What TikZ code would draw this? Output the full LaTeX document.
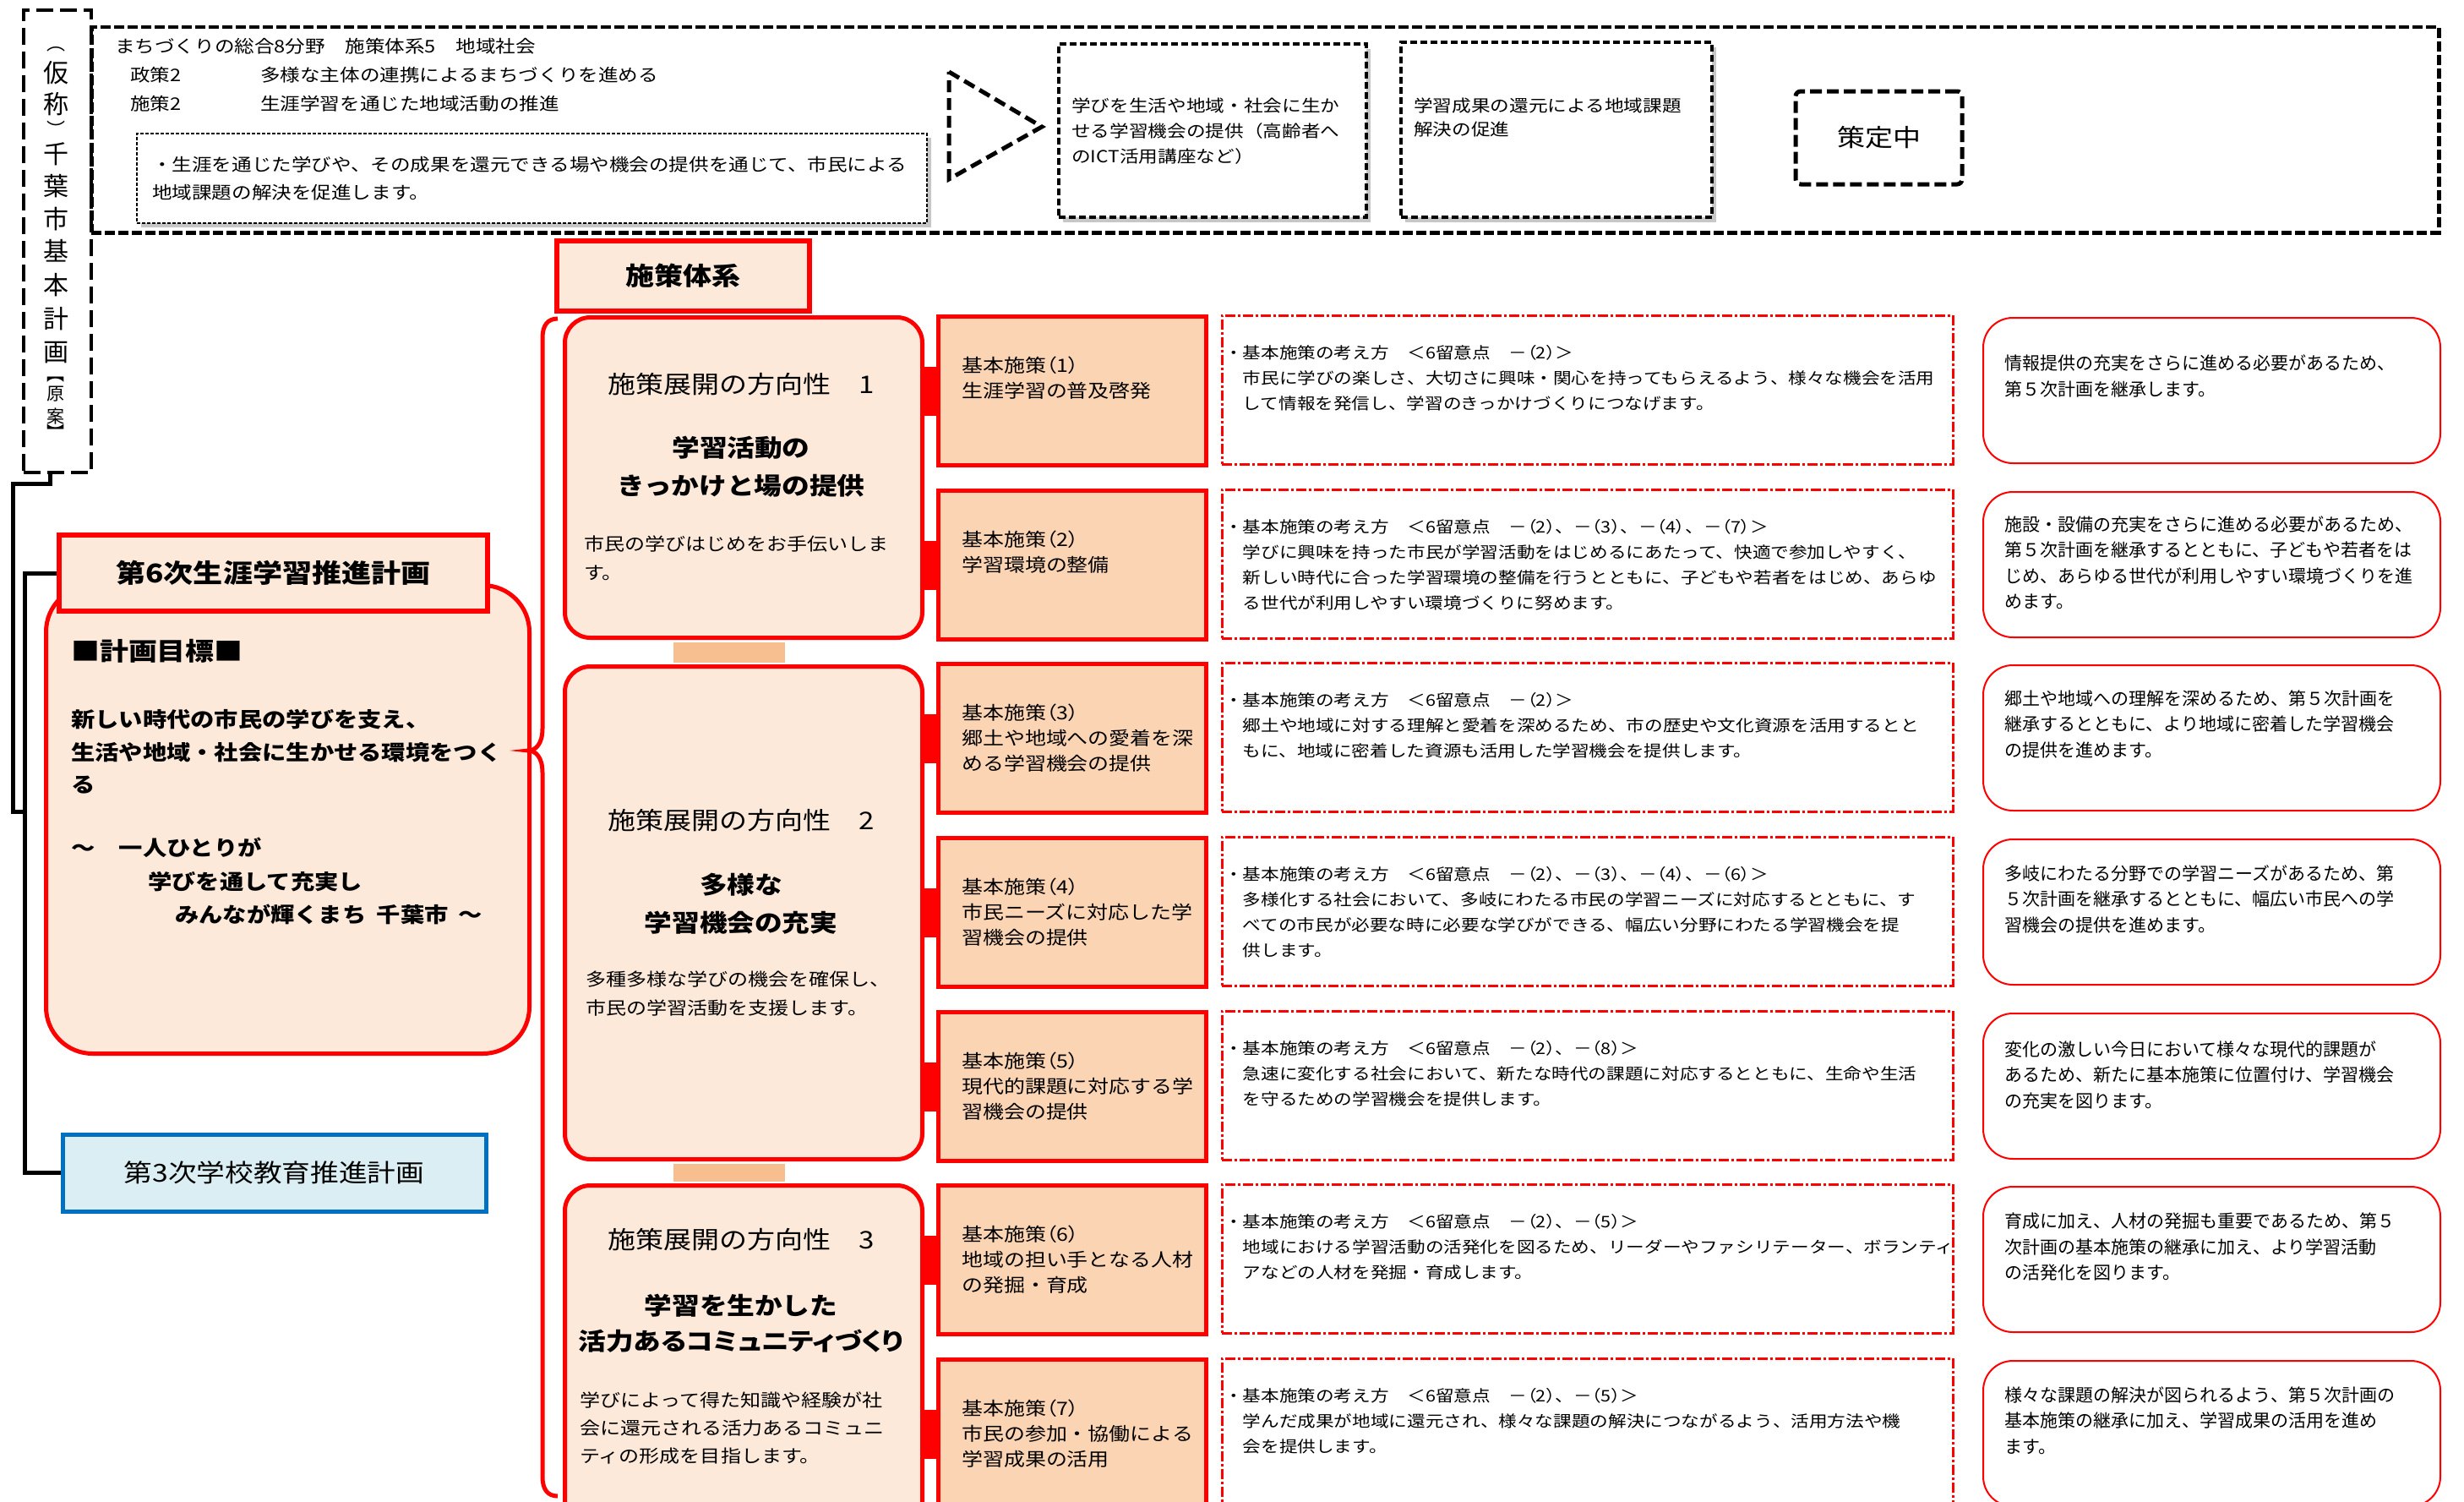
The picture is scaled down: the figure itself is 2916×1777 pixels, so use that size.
\documentclass[tikz,border=0pt]{standalone}
\usepackage{fontspec}
\setmainfont{Noto Sans CJK JP}[FakeStretch=1.15]
\newfontfamily\plainjp{Noto Sans CJK JP}
\definecolor{peachL}{HTML}{FDE9D9}
\definecolor{peachD}{HTML}{FBD4B4}
\definecolor{barc}{HTML}{F7BF8F}
\definecolor{blueF}{HTML}{DAEEF3}
\definecolor{blueD}{HTML}{0070C0}
\newcommand\myfs[2]{\fontsize{#1pt}{#2pt}\selectfont}
\newcommand\pp[1]{{\addfontfeature{RawFeature=+palt}（#1）}}
\begin{document}
\begin{tikzpicture}[x=1pt,y=-1pt,
 conn/.style={line width=5pt,draw=black},
 redhead/.style={draw=red,line width=6pt,fill=peachL,inner sep=0pt},
 dirbox/.style={draw=red,line width=5pt,fill=peachL,rounded corners=30pt,minimum width=423pt,anchor=north west,inner sep=0pt},
 kbox/.style={draw=red,line width=5pt,fill=peachD,minimum width=317pt,minimum height=176pt,anchor=north west,inner sep=0pt},
 cbox/.style={draw=red,line width=2.5pt,dash pattern=on 12pt off 3pt on 3pt off 3pt,fill=white,minimum width=865pt,minimum height=176pt,anchor=north west,inner sep=0pt},
 rbox/.style={draw=red,line width=2pt,rounded corners=35pt,fill=white,minimum width=541pt,minimum height=172pt,anchor=north west,inner sep=0pt},
 txt/.style={inner sep=0pt,align=left,anchor=west},
 ktxt/.style={txt,font=\myfs{21.7}{30}},
 ctxt/.style={txt,font=\myfs{18.8}{30}},
 rtxt/.style={txt,font=\plainjp\myfs{21}{30.5}},
 ttl/.style={inner sep=0pt,font=\myfs{28.7}{34}},
 subt/.style={inner sep=0pt,align=center,font=\bfseries\myfs{28.4}{45}},
 dtxt/.style={txt,font=\myfs{20.9}{34}},
 topfont/.style={txt,font=\myfs{20.5}{33}},
 dashbox/.style={draw=black,fill=white,line width=4pt,dash pattern=on 8pt off 4pt,anchor=north west,inner sep=0pt},
 shadowc/.style={fill=black!22},
]
\useasboundingbox (0,0) rectangle (2916,1777);
\clip (0,0) rectangle (2916,1777);
\fill[white] (0,0) rectangle (2916,1777);

% ---- top frame and left vertical frame
\node[draw=black,line width=4.5pt,dash pattern=on 12pt off 4pt,minimum width=2778pt,minimum height=243pt,anchor=north west,inner sep=0pt] (topbox) at (106,30) {};
\node[draw=black,line width=4pt,dash pattern=on 20pt off 8pt,minimum width=80pt,minimum height=547pt,anchor=north west,inner sep=0pt] (kihon) at (26,10) {};
\foreach \c/\yy [count=\i] in {仮/86,称/123,千/182,葉/220,市/259,基/297,本/337,計/377,画/417}
  \node[font=\plainjp\myfs{30}{30},inner sep=0pt] (v\i) at (66,\yy) {\c};
\node[font=\plainjp\myfs{22}{22},inner sep=0pt] (pl) at (66,58) {︵};
\node[font=\plainjp\myfs{22}{22},inner sep=0pt] (pr) at (66,152) {︶};
\foreach \c/\yy [count=\i] in {︻/449,原/466,案/493,︼/511}
  \node[font=\plainjp\myfs{21}{21},inner sep=0pt] (w\i) at (66,\yy) {\c};

% ---- top texts
\node[topfont] (t1) at (136,55) {まちづくりの総合8分野　施策体系5　地域社会};
\node[topfont] (t2) at (154,89) {政策2};
\node[topfont] (t3) at (308,89) {多様な主体の連携によるまちづくりを進める};
\node[topfont] (t4) at (154,123) {施策2};
\node[topfont] (t5) at (308,123) {生涯学習を通じた地域活動の推進};

\fill[shadowc] (167,163) rectangle (1102,269);
\node[draw=black,fill=white,line width=1.5pt,dash pattern=on 4pt off 2pt,minimum width=935pt,minimum height=106pt,anchor=north west,inner sep=0pt] (seisaku) at (161,157) {};
\node[topfont] (seisakut) at (180,211.5) {・生涯を通じた学びや、その成果を還元できる場や機会の提供を通じて、市民による\\地域課題の解決を促進します。};

\draw[line width=5pt,dash pattern=on 14pt off 7pt] (1123,85) -- (1233,150) -- (1123,212) -- cycle;

\fill[shadowc] (1258,58) rectangle (1622,263);
\node[dashbox,minimum width=364pt,minimum height=205pt] (ict) at (1251,50) {};
\node[txt,font=\myfs{19.7}{30}] (ictt) at (1268,155) {学びを生活や地域・社会に生か\\せる学習機会の提供（高齢者へ\\のICT活用講座など）};
\fill[shadowc] (1663,56) rectangle (2031,263);
\node[dashbox,minimum width=368pt,minimum height=207pt] (kadai) at (1656,48) {};
\node[txt,font=\myfs{19.7}{28}] (kadait) at (1673,139) {学習成果の還元による地域課題\\解決の促進};
\node[draw=black,line width=5pt,dash pattern=on 14pt off 6pt,rounded corners=6pt,minimum width=197pt,minimum height=110pt,inner sep=0pt,font=\myfs{28.7}{30}] (sakutei) at (2223.5,163) {策定中};

% ---- left plans
\node[draw=red,line width=5pt,fill=peachL,rounded corners=55pt,minimum width=572pt,minimum height=554pt,anchor=north west,inner sep=0pt] (goal) at (52,690) {};
\node[redhead,minimum width=507pt,minimum height=90pt,font=\bfseries\myfs{30.5}{34}] (plan6) at (323.5,678) {第6次生涯学習推進計画};
\node[txt,font=\bfseries\myfs{29.5}{32}] (gh) at (84,770) {■計画目標■};
\node[txt,font=\bfseries\myfs{24.6}{38.5}] (gb1) at (84,889.5) {新しい時代の市民の学びを支え、\\生活や地域・社会に生かせる環境をつく\\る};
\node[txt,font=\bfseries\myfs{24.6}{39.5}] (gb2) at (84,1042.5) {～　一人ひとりが\\\hspace*{91pt}学びを通して充実し\\\hspace*{123pt}みんなが輝くまち\hspace{0.5em}千葉市\hspace{0.5em}～};
\node[draw=blueD,line width=5pt,fill=blueF,minimum width=501pt,minimum height=91pt,inner sep=0pt,font=\myfs{29.3}{32}] (plan3) at (324.5,1387.5) {第3次学校教育推進計画};

\coordinate (j1) at (15,572);
\coordinate (jn) at (32,960);
\draw[conn] ([xshift=-9pt]kihon.south) |- (j1) |- (jn);
\draw[conn] (plan6.west) -- ++(-38,0) |- (plan3.west);

% ---- brace
\coordinate (bt) at (660,377);
\coordinate (btip) at (625,888);
\coordinate (bb) at (660,1770);
\draw[red,line width=5pt] (bt) .. controls (648,377) and (642,385) .. (642,400)
  -- (642,862) .. controls (642,880) and (634,888) .. (btip)
  .. controls (634,888) and (642,896) .. (642,914)
  -- (642,1747) .. controls (642,1762) and (648,1770) .. (bb);

% ---- policy system
\node[redhead,minimum width=299pt,minimum height=83pt,font=\bfseries\myfs{29.6}{32}] (taikei) at (808.5,326.5) {施策体系};
\node[dirbox,minimum height=379pt] (d1) at (666,373) {};
\node[dirbox,minimum height=583pt] (d2) at (666,786) {};
\node[dirbox,minimum height=420pt] (d3) at (666,1400) {};
\draw[draw=barc,line width=132pt] ([xshift=-17.5pt,yshift=-2.5pt]d1.south) -- ([xshift=-17.5pt,yshift=2.5pt]d2.north);
\draw[draw=barc,line width=132pt] ([xshift=-17.5pt,yshift=-2.5pt]d2.south) -- ([xshift=-17.5pt,yshift=2.5pt]d3.north);

\node[ttl] (d1a) at (877,455) {施策展開の方向性　1};
\node[subt] (d1b) at (877,552.5) {学習活動の\\きっかけと場の提供};
\node[dtxt] (d1c) at (691,660) {市民の学びはじめをお手伝いしま\\す。};
\node[ttl] (d2a) at (877,971) {施策展開の方向性　2};
\node[subt] (d2b) at (877,1069.5) {多様な\\学習機会の充実};
\node[dtxt] (d2c) at (693,1176) {多種多様な学びの機会を確保し、\\市民の学習活動を支援します。};
\node[ttl] (d3a) at (877,1467) {施策展開の方向性　3};
\node[subt,font=\bfseries\myfs{28.4}{42}] (d3b) at (877,1566) {学習を生かした\\{\addfontfeature{RawFeature=+palt}活力あるコミュニティづくり}};
\node[dtxt,font=\myfs{20.9}{33}] (d3c) at (686,1690) {学びによって得た知識や経験が社\\会に還元される活力あるコミュニ\\ティの形成を目指します。};

% ---- rows
\node[kbox] (k1) at (1108,372) {};
\node[kbox] (k2) at (1108,578) {};
\node[kbox] (k3) at (1108,783) {};
\node[kbox] (k4) at (1108,989) {};
\node[kbox] (k5) at (1108,1195) {};
\node[kbox] (k6) at (1108,1400) {};
\node[kbox] (k7) at (1108,1606) {};
\draw[red,line width=58pt] (k1.west -| d1.east) -- (k1.west);
\draw[red,line width=58pt] (k2.west -| d1.east) -- (k2.west);
\draw[red,line width=58pt] (k3.west -| d2.east) -- (k3.west);
\draw[red,line width=58pt] (k4.west -| d2.east) -- (k4.west);
\draw[red,line width=58pt] (k5.west -| d2.east) -- (k5.west);
\draw[red,line width=58pt] (k6.west -| d3.east) -- (k6.west);
\draw[red,line width=58pt] (k7.west -| d3.east) -- (k7.west);
\node[ktxt] (kt1) at (1138,447) {基本施策\pp{1}\\生涯学習の普及啓発};
\node[ktxt] (kt2) at (1138,653) {基本施策\pp{2}\\学習環境の整備};
\node[ktxt] (kt3) at (1138,873) {基本施策\pp{3}\\郷土や地域への愛着を深\\める学習機会の提供};
\node[ktxt] (kt4) at (1138,1079) {基本施策\pp{4}\\市民ニーズに対応した学\\習機会の提供};
\node[ktxt] (kt5) at (1138,1285) {基本施策\pp{5}\\現代的課題に対応する学\\習機会の提供};
\node[ktxt] (kt6) at (1138,1490) {基本施策\pp{6}\\地域の担い手となる人材\\の発掘・育成};
\node[ktxt] (kt7) at (1138,1696) {基本施策\pp{7}\\市民の参加・協働による\\学習成果の活用};

\node[cbox] (c1) at (1445,372) {};
\node[cbox] (c2) at (1445,578) {};
\node[cbox] (c3) at (1445,783) {};
\node[cbox] (c4) at (1445,989) {};
\node[cbox] (c5) at (1445,1195) {};
\node[cbox] (c6) at (1445,1400) {};
\node[cbox] (c7) at (1445,1606) {};
\node[ctxt] (ct1) at (1449,447) {・基本施策の考え方　＜6留意点　－\pp{2}＞\\　市民に学びの楽しさ、大切さに興味・関心を持ってもらえるよう、様々な機会を活用\\　して情報を発信し、学習のきっかけづくりにつなげます。};
\node[ctxt] (ct2) at (1449,668) {・基本施策の考え方　＜6留意点　－\pp{2}、－\pp{3}、－\pp{4}、－\pp{7}＞\\　学びに興味を持った市民が学習活動をはじめるにあたって、快適で参加しやすく、\\　新しい時代に合った学習環境の整備を行うとともに、子どもや若者をはじめ、あらゆ\\　る世代が利用しやすい環境づくりに努めます。};
\node[ctxt] (ct3) at (1449,858) {・基本施策の考え方　＜6留意点　－\pp{2}＞\\　郷土や地域に対する理解と愛着を深めるため、市の歴史や文化資源を活用するとと\\　もに、地域に密着した資源も活用した学習機会を提供します。};
\node[ctxt] (ct4) at (1449,1079) {・基本施策の考え方　＜6留意点　－\pp{2}、－\pp{3}、－\pp{4}、－\pp{6}＞\\　多様化する社会において、多岐にわたる市民の学習ニーズに対応するとともに、す\\　べての市民が必要な時に必要な学びができる、幅広い分野にわたる学習機会を提\\　供します。};
\node[ctxt] (ct5) at (1449,1270) {・基本施策の考え方　＜6留意点　－\pp{2}、－\pp{8}＞\\　急速に変化する社会において、新たな時代の課題に対応するとともに、生命や生活\\　を守るための学習機会を提供します。};
\node[ctxt] (ct6) at (1449,1475) {・基本施策の考え方　＜6留意点　－\pp{2}、－\pp{5}＞\\　地域における学習活動の活発化を図るため、リーダーやファシリテーター、ボランティ\\　アなどの人材を発掘・育成します。};
\node[ctxt] (ct7) at (1449,1681) {・基本施策の考え方　＜6留意点　－\pp{2}、－\pp{5}＞\\　学んだ成果が地域に還元され、様々な課題の解決につながるよう、活用方法や機\\　会を提供します。};

\node[rbox] (r1) at (2346,375) {};
\node[rbox] (r2) at (2346,581) {};
\node[rbox] (r3) at (2346,786) {};
\node[rbox] (r4) at (2346,992) {};
\node[rbox] (r5) at (2346,1198) {};
\node[rbox] (r6) at (2346,1403) {};
\node[rbox] (r7) at (2346,1609) {};
\node[rtxt] (rt1) at (2372,445) {情報提供の充実をさらに進める必要があるため、\\第５次計画を継承します。};
\node[rtxt] (rt2) at (2372,665.5) {施設・設備の充実をさらに進める必要があるため、\\第５次計画を継承するとともに、子どもや若者をは\\じめ、あらゆる世代が利用しやすい環境づくりを進\\めます。};
\node[rtxt] (rt3) at (2372,856.5) {郷土や地域への理解を深めるため、第５次計画を\\継承するとともに、より地域に密着した学習機会\\の提供を進めます。};
\node[rtxt] (rt4) at (2372,1063.5) {多岐にわたる分野での学習ニーズがあるため、第\\５次計画を継承するとともに、幅広い市民への学\\習機会の提供を進めます。};
\node[rtxt] (rt5) at (2372,1271.5) {変化の激しい今日において様々な現代的課題が\\あるため、新たに基本施策に位置付け、学習機会\\の充実を図ります。};
\node[rtxt] (rt6) at (2372,1475.5) {育成に加え、人材の発掘も重要であるため、第５\\次計画の基本施策の継承に加え、より学習活動\\の活発化を図ります。};
\node[rtxt] (rt7) at (2372,1680.5) {様々な課題の解決が図られるよう、第５次計画の\\基本施策の継承に加え、学習成果の活用を進め\\ます。};
\end{tikzpicture}
\end{document}
